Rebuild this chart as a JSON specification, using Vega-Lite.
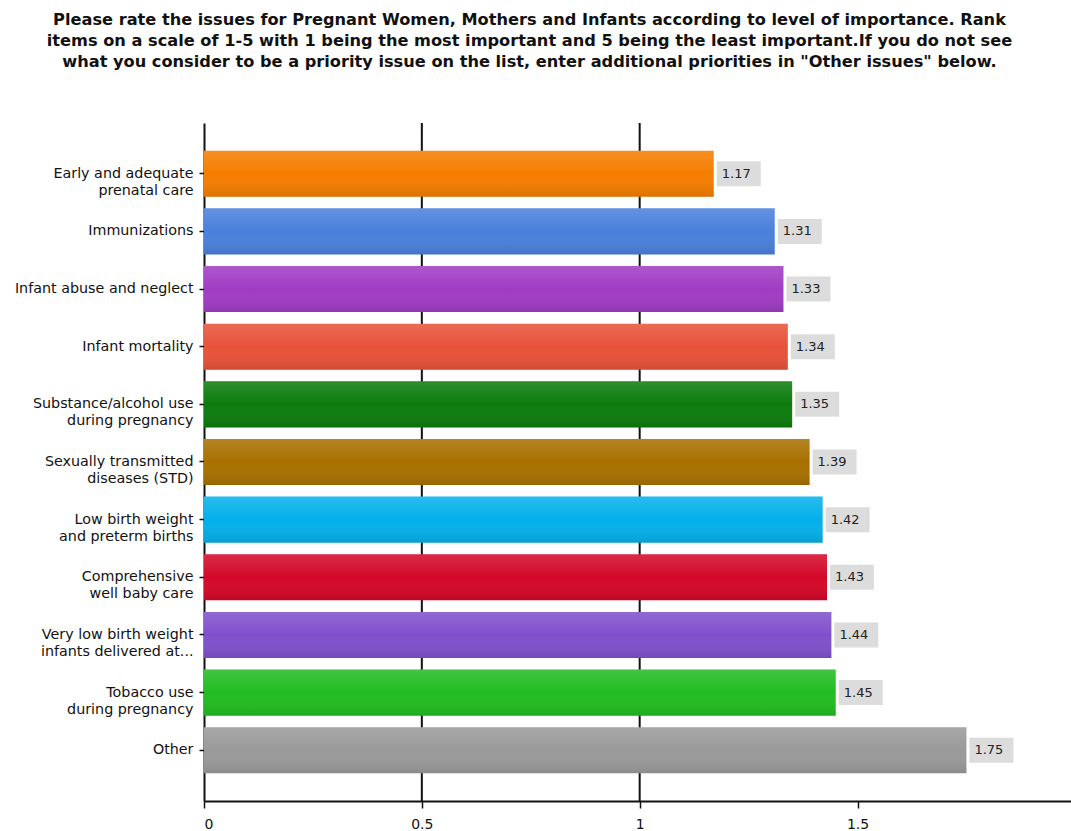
{
  "$schema": "https://vega.github.io/schema/vega-lite/v6.json",
  "autosize": "none",
  "width": 867,
  "height": 678,
  "padding": {"left": 204, "top": 123, "right": 0, "bottom": 30},
  "background": "white",
  "title": {
    "text": [
      "Please rate the issues for Pregnant Women, Mothers and Infants according to level of importance. Rank",
      "items on a scale of 1-5 with 1 being the most important and 5 being the least important.If you do not see",
      "what you consider to be a priority issue on the list, enter additional priorities in \"Other issues\" below."
    ],
    "anchor": "middle",
    "frame": "group",
    "dx": -108,
    "offset": 52,
    "font": "DejaVu Sans",
    "fontSize": 16.2,
    "fontWeight": "bold",
    "lineHeight": 21,
    "color": "#111111"
  },
  "config": {
    "view": {"stroke": null},
    "font": "DejaVu Sans"
  },
  "data": {
    "values": [
      {"issue": "Early and adequate|prenatal care", "score": 1.17},
      {"issue": "Immunizations", "score": 1.31},
      {"issue": "Infant abuse and neglect", "score": 1.33},
      {"issue": "Infant mortality", "score": 1.34},
      {"issue": "Substance/alcohol use|during pregnancy", "score": 1.35},
      {"issue": "Sexually transmitted|diseases (STD)", "score": 1.39},
      {"issue": "Low birth weight|and preterm births", "score": 1.42},
      {"issue": "Comprehensive|well baby care", "score": 1.43},
      {"issue": "Very low birth weight|infants delivered at...", "score": 1.44},
      {"issue": "Tobacco use|during pregnancy", "score": 1.45},
      {"issue": "Other", "score": 1.75}
    ]
  },
  "encoding": {
    "y": {
      "field": "issue",
      "type": "nominal",
      "sort": null,
      "scale": {"paddingInner": 0.2, "paddingOuter": 0.48},
      "axis": {
        "title": null,
        "labelExpr": "split(datum.label, '|')",
        "labelFont": "DejaVu Sans",
        "labelFontSize": 14.3,
        "labelLineHeight": 17,
        "labelColor": "#111111",
        "labelLimit": 0,
        "labelPadding": 6,
        "tickSize": 5,
        "tickColor": "#111111",
        "tickWidth": 1.5,
        "domainColor": "#111111",
        "domainWidth": 2
      }
    }
  },
  "layer": [
    {
      "data": {"values": [{"grid": 0.5}, {"grid": 1}]},
      "mark": {"type": "rule", "color": "#111111", "strokeWidth": 2},
      "encoding": {
        "x": {"field": "grid", "type": "quantitative"},
        "y": null
      }
    },
    {
      "mark": {"type": "bar"},
      "encoding": {
        "x": {
          "field": "score",
          "type": "quantitative",
          "scale": {"domain": [0, 1.99], "nice": false, "zero": true},
          "axis": {
            "title": null,
            "values": [0, 0.5, 1, 1.5],
            "format": "~g",
            "grid": false,
            "labelFont": "DejaVu Sans",
            "labelFontSize": 14,
            "labelColor": "#111111",
            "labelPadding": 9,
            "tickSize": 7,
            "tickColor": "#111111",
            "tickWidth": 1.5,
            "domainColor": "#111111",
            "domainWidth": 2
          }
        },
        "color": {
          "field": "issue",
          "type": "nominal",
          "legend": null,
          "scale": {
            "domain": [
              "Early and adequate|prenatal care",
              "Immunizations",
              "Infant abuse and neglect",
              "Infant mortality",
              "Substance/alcohol use|during pregnancy",
              "Sexually transmitted|diseases (STD)",
              "Low birth weight|and preterm births",
              "Comprehensive|well baby care",
              "Very low birth weight|infants delivered at...",
              "Tobacco use|during pregnancy",
              "Other"
            ],
            "range": [
              "#f57d00", "#4a80dc", "#a03cc4", "#e8523a", "#0c7c0c", "#a87000",
              "#04b0ea", "#d40828", "#8050cc", "#22bc22", "#9a9a9a"
            ]
          }
        }
      }
    },
    {
      "mark": {
        "type": "bar",
        "fill": {
          "gradient": "linear",
          "x1": 0, "y1": 0, "x2": 0, "y2": 1,
          "stops": [
            {"offset": 0, "color": "rgba(255,255,255,0.14)"},
            {"offset": 0.5, "color": "rgba(255,255,255,0)"},
            {"offset": 1, "color": "rgba(0,0,0,0.10)"}
          ]
        }
      },
      "encoding": {
        "x": {"field": "score", "type": "quantitative"}
      }
    },
    {
      "mark": {"type": "bar", "color": "#dcdcdc", "height": 25, "xOffset": 3, "x2Offset": 47},
      "encoding": {
        "x": {"field": "score", "type": "quantitative"},
        "x2": {"field": "score"}
      }
    },
    {
      "mark": {"type": "text", "align": "left", "baseline": "middle", "dx": 8, "fontSize": 13, "font": "DejaVu Sans", "color": "#222222"},
      "encoding": {
        "x": {"field": "score", "type": "quantitative"},
        "text": {"field": "score", "type": "quantitative", "format": ".2f"}
      }
    }
  ]
}
